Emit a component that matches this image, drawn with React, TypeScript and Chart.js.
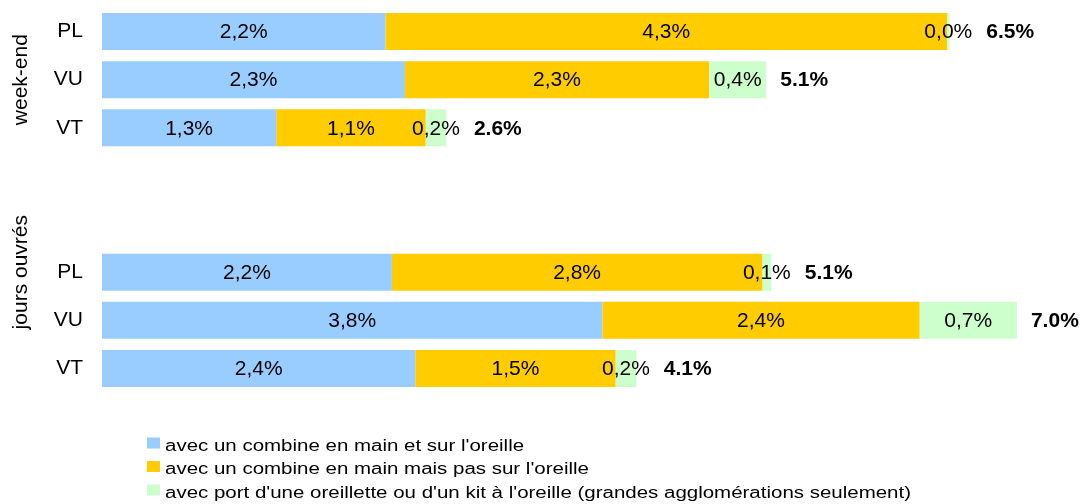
import React, { useEffect, useRef } from 'react';
import { Chart, registerables } from 'chart.js';

Chart.register(...registerables);

const categories = ['PL', 'VU', 'VT', '', '', 'PL', 'VU', 'VT'];
const groupLabels = ['week-end', 'jours ouvrés'];
const groupFrom = [0, 3];
const groupTo = [2, 7];
const seriesNames = [
  "avec un combine en main et sur l'oreille",
  "avec un combine en main mais pas sur l'oreille",
  "avec port d'une oreillette ou d'un kit à l'oreille (grandes agglomérations seulement)",
];
const handOnEar = [2.18, 2.33, 1.34, null, null, 2.23, 3.849, 2.41];
const handNotEar = [4.32, 2.34, 1.149, null, null, 2.849, 2.44, 1.54];
const earpiece = [0.02, 0.44, 0.16, null, null, 0.07, 0.749, 0.16];
const seriesColors = ['#99CCFF', '#FFCC00', '#CCFFCC'];
const xMax = 7.5;

const FONT = "'Liberation Sans', Arial, Helvetica, sans-serif";

const fmtComma = (v: number) => v.toFixed(1).replace('.', ',') + '%';
const fmtDot = (v: number) => v.toFixed(1) + '%';

const labelsPlugin = {
  id: 'customLabels',
  afterDatasetsDraw(chart: any) {
    const ctx = chart.ctx;
    const n = chart.data.labels.length;
    ctx.save();
    ctx.fillStyle = '#000';
    ctx.textBaseline = 'middle';
    for (let j = 0; j < n; j++) {
      let total = 0;
      let end = -Infinity;
      let lastRight = -Infinity;
      let y = 0;
      let has = false;
      chart.data.datasets.forEach((ds: any, i: number) => {
        const v = ds.data[j];
        if (v == null) return;
        has = true;
        total += v;
        const el = chart.getDatasetMeta(i).data[j] as any;
        const cx = (el.x + el.base) / 2;
        y = el.y;
        ctx.font = `21px ${FONT}`;
        ctx.textAlign = 'center';
        const t = fmtComma(v);
        ctx.fillText(t, cx, y + 1);
        const w = ctx.measureText(t).width;
        end = Math.max(end, el.x);
        lastRight = cx + w / 2;
      });
      if (!has) continue;
      ctx.font = `bold 21px ${FONT}`;
      ctx.textAlign = 'left';
      ctx.fillText(fmtDot(total), Math.max(end, lastRight) + 14, y + 1);
    }
    ctx.restore();
  },
  afterDraw(chart: any) {
    const ctx = chart.ctx;
    const yScale = chart.scales.y;
    ctx.save();
    ctx.fillStyle = '#000';
    // group labels
    ctx.font = `21px ${FONT}`;
    ctx.textAlign = 'center';
    ctx.textBaseline = 'middle';
    groupLabels.forEach((g, k) => {
      const yc = (yScale.getPixelForValue(groupFrom[k]) + yScale.getPixelForValue(groupTo[k])) / 2;
      ctx.save();
      ctx.translate(21, yc);
      ctx.rotate(-Math.PI / 2);
      ctx.fillText(g, 0, 0);
      ctx.restore();
    });
    // legend
    seriesNames.forEach((name, i) => {
      const rowY = 443 + i * 23.5;
      ctx.fillStyle = seriesColors[i];
      ctx.fillRect(147, rowY - 5.5, 13, 11);
      ctx.fillStyle = '#000';
      ctx.save();
      ctx.translate(165, rowY + 7.5);
      ctx.scale(1.28, 1);
      ctx.font = `16px ${FONT}`;
      ctx.textAlign = 'left';
      ctx.textBaseline = 'alphabetic';
      ctx.fillText(name, 0, 0);
      ctx.restore();
    });
    ctx.restore();
  },
};

export default function App() {
  const ref = useRef<HTMLCanvasElement | null>(null);
  useEffect(() => {
    document.body.style.margin = '0';
    if (!ref.current) return;
    const chart = new Chart(ref.current, {
      type: 'bar',
      data: {
        labels: categories,
        datasets: [handOnEar, handNotEar, earpiece].map((d, i) => ({
          label: seriesNames[i],
          data: d as any,
          backgroundColor: seriesColors[i],
          borderWidth: 0,
          barPercentage: 0.77,
          categoryPercentage: 1,
        })),
      },
      options: {
        indexAxis: 'y',
        animation: false,
        responsive: true,
        maintainAspectRatio: false,
        layout: { padding: { top: 7.5, bottom: 111.5, left: 0, right: 7 } },
        plugins: {
          legend: { display: false },
          tooltip: { enabled: false },
        },
        scales: {
          x: {
            stacked: true,
            min: 0,
            max: xMax,
            display: false,
          },
          y: {
            stacked: true,
            grid: { display: false, drawTicks: false },
            border: { display: false },
            ticks: {
              color: '#000',
              padding: 19,
              font: { family: FONT, size: 21 },
            },
            afterFit: (scale: any) => {
              scale.width = 102;
              scale.paddingTop = 0;
              scale.paddingBottom = 0;
            },
          },
        },
      },
      plugins: [labelsPlugin],
    });
    return () => chart.destroy();
  }, []);
  return (
    <div style={{ width: 1084, height: 504, position: 'relative' }}>
      <canvas ref={ref} />
    </div>
  );
}
